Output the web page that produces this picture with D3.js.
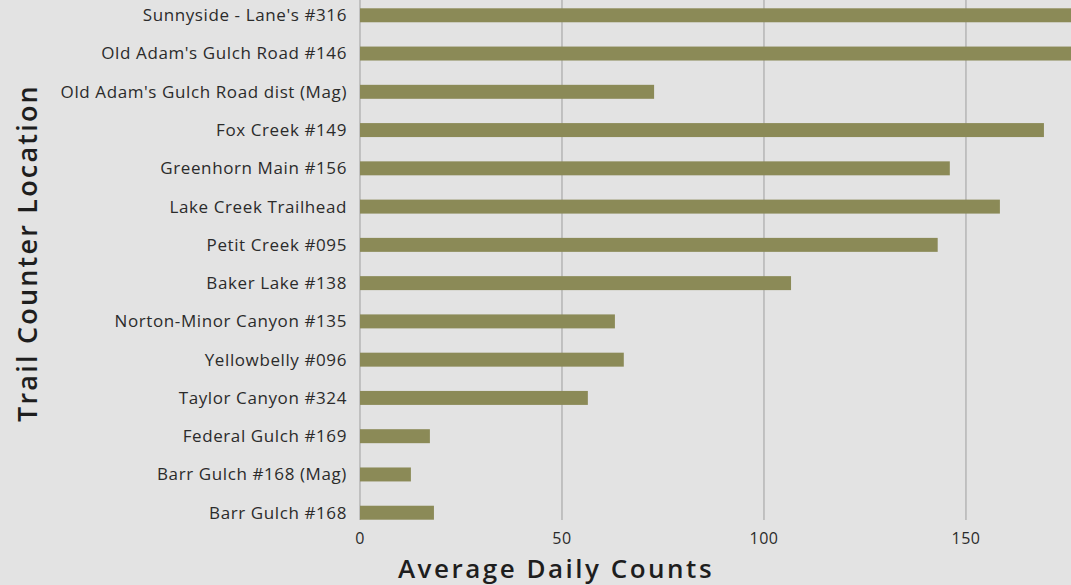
<!DOCTYPE html>
<html>
<head>
<meta charset="utf-8">
<script src="https://cdn.jsdelivr.net/npm/d3@7"></script>
<style>
  body { margin: 0; background: #e3e3e3; }
  svg { display: block; }
</style>
</head>
<body>
<svg id="chart" width="1071" height="585"></svg>
<script>
const locations = [
  "Sunnyside - Lane's #316",
  "Old Adam's Gulch Road #146",
  "Old Adam's Gulch Road dist (Mag)",
  "Fox Creek #149",
  "Greenhorn Main #156",
  "Lake Creek Trailhead",
  "Petit Creek #095",
  "Baker Lake #138",
  "Norton-Minor Canyon #135",
  "Yellowbelly #096",
  "Taylor Canyon #324",
  "Federal Gulch #169",
  "Barr Gulch #168 (Mag)",
  "Barr Gulch #168"
];
const avgDailyCounts = [182, 186, 72.8, 169.3, 146, 158.4, 143, 106.7, 63.1, 65.3, 56.4, 17.3, 12.6, 18.3];
const xTicks = [0, 50, 100, 150];

const svg = d3.select("#chart");
const W = +svg.attr("width"), H = +svg.attr("height");

const x = d3.scaleLinear().domain([0, 176]).range([360, 1071]);
const y = d3.scaleBand().domain(locations).range([-16, 544]).padding(0.635);

svg.append("rect").attr("width", W).attr("height", H).attr("fill", "#e3e3e3");

svg.append("defs").append("clipPath").attr("id", "plot")
  .append("rect").attr("x", 360).attr("y", 0).attr("width", W - 360).attr("height", 530);

// gridlines
svg.append("g")
  .selectAll("line")
  .data(xTicks)
  .join("line")
  .attr("x1", d => x(d)).attr("x2", d => x(d))
  .attr("y1", 0).attr("y2", 520)
  .attr("stroke", "#a9a9a9")
  .attr("stroke-width", 1.2);

// bars
svg.append("g").attr("clip-path", "url(#plot)")
  .selectAll("rect")
  .data(locations)
  .join("rect")
  .attr("x", x(0))
  .attr("y", d => y(d))
  .attr("height", y.bandwidth())
  .attr("width", (d, i) => x(avgDailyCounts[i]) - x(0))
  .attr("fill", "#8b8a57");

// category labels
svg.append("g")
  .selectAll("text")
  .data(locations)
  .join("text")
  .attr("x", 347)
  .attr("y", d => y(d) + y.bandwidth() / 2)
  .attr("dy", "0.35em")
  .attr("text-anchor", "end")
  .attr("font-family", "Open Sans")
  .attr("font-size", 17)
  .attr("letter-spacing", 0.6)
  .attr("fill", "#2b2b2b")
  .text(d => d);

// x tick labels
svg.append("g")
  .selectAll("text")
  .data(xTicks)
  .join("text")
  .attr("x", d => x(d))
  .attr("y", 544)
  .attr("text-anchor", "middle")
  .attr("font-family", "Open Sans")
  .attr("font-size", 16)
  .attr("letter-spacing", 0.5)
  .attr("fill", "#2b2b2b")
  .text(d => d);

// axis titles
svg.append("text")
  .attr("x", 556)
  .attr("y", 578)
  .attr("text-anchor", "middle")
  .attr("font-family", "Open Sans")
  .attr("font-weight", 600)
  .attr("font-size", 26)
  .attr("letter-spacing", 2.5)
  .attr("fill", "#1e1e1e")
  .text("Average Daily Counts");

svg.append("text")
  .attr("transform", "translate(37,253) rotate(-90)")
  .attr("text-anchor", "middle")
  .attr("font-family", "Open Sans")
  .attr("font-weight", 600)
  .attr("font-size", 27)
  .attr("letter-spacing", 2.2)
  .attr("fill", "#1e1e1e")
  .text("Trail Counter Location");
</script>
</body>
</html>
